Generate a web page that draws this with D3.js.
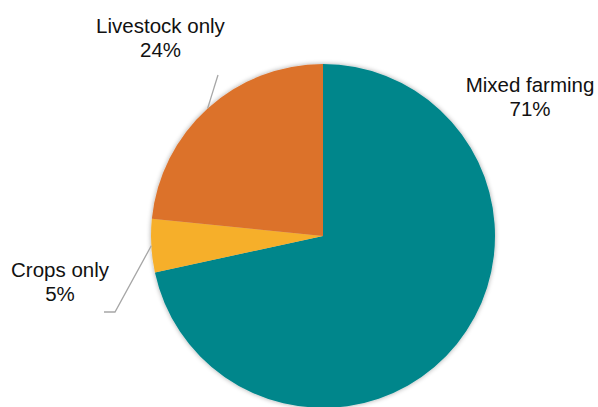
<!DOCTYPE html>
<html><head><meta charset="utf-8">
<script src="https://cdn.jsdelivr.net/npm/d3@7"></script>
<style>html,body{margin:0;padding:0;background:#fff;}svg{display:block;}</style>
</head><body>
<svg id="c" width="598" height="407"></svg>
<script>
const categories = ["Mixed farming", "Crops only", "Livestock only"];
const values = [71.6, 5.0, 23.4];
const labels = ["71%", "5%", "24%"];
const colors = ["#00868B", "#F6AF2A", "#DC722B"];

const svg = d3.select("#c");
const cx = 323, cy = 236, R = 172;
const defs = svg.append("defs");
const f = defs.append("filter").attr("id","sh").attr("x","-10%").attr("y","-10%").attr("width","120%").attr("height","120%");
f.append("feGaussianBlur").attr("in","SourceAlpha").attr("stdDeviation",2.5).attr("result","b");
f.append("feOffset").attr("in","b").attr("dx",0).attr("dy",0).attr("result","o");
f.append("feComponentTransfer").attr("in","o").attr("result","o2").append("feFuncA").attr("type","linear").attr("slope",0.35);
const m = f.append("feMerge"); m.append("feMergeNode").attr("in","o2"); m.append("feMergeNode").attr("in","SourceGraphic");

const data = categories.map((c,i)=>({cat:c, v:values[i], lab:labels[i], col:colors[i]}));
const pie = d3.pie().value(d=>d.v).sort(null);
const arcs = pie(data);
const arc = d3.arc().innerRadius(0).outerRadius(R);
const g = svg.append("g").attr("transform",`translate(${cx},${cy})`);
g.append("g").attr("filter","url(#sh)").selectAll("path").data(arcs).join("path")
  .attr("d",arc).attr("fill",d=>d.data.col);

// label layout
const layout = {
  "Mixed farming": {tx:530, ty:92, leader:null},
  "Crops only": {tx:60, ty:277, leader:[[115,312],[104,312]]},
  "Livestock only": {tx:160.5, ty:33, leader:[[218,75]]}
};
arcs.forEach(a=>{
  const L = layout[a.data.cat];
  const mid = (a.startAngle+a.endAngle)/2;
  const sx = cx + R*Math.sin(mid), sy = cy - R*Math.cos(mid);
  if (L.leader) {
    const pts = [[sx,sy]].concat(L.leader);
    svg.append("path").attr("d", d3.line()(pts)).attr("fill","none")
      .attr("stroke","#A6A6A6").attr("stroke-width",1.3);
  }
  const t = svg.append("text").attr("x",L.tx).attr("y",L.ty).attr("text-anchor","middle")
    .attr("font-family","'Liberation Sans', Arial, sans-serif").attr("font-size",20.5).attr("fill","#111");
  t.append("tspan").attr("x",L.tx).text(a.data.cat);
  t.append("tspan").attr("x",L.tx).attr("dy",24).text(a.data.lab);
});
</script>
</body></html>
